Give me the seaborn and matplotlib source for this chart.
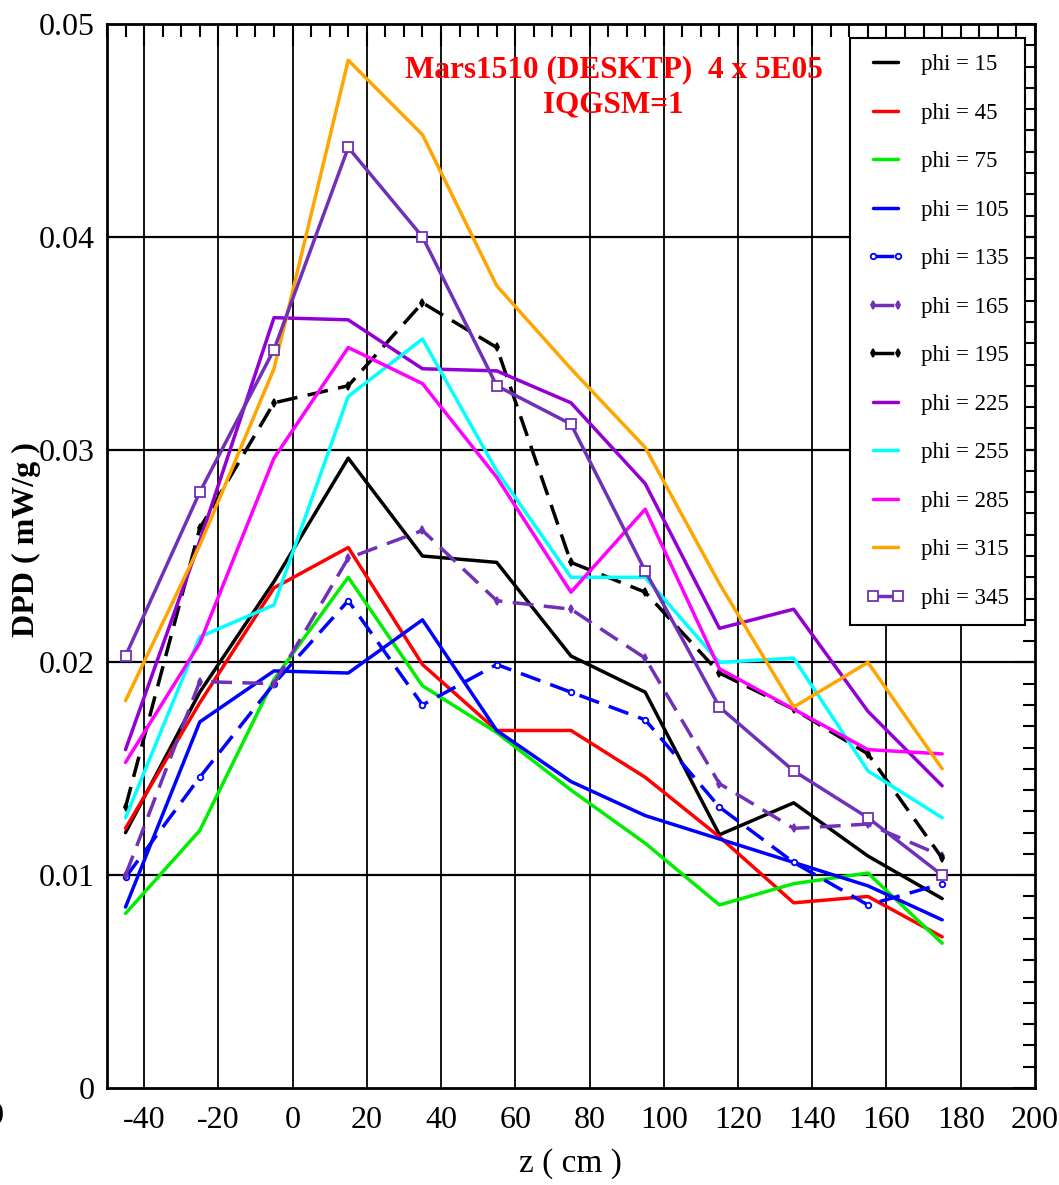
import matplotlib

matplotlib.use("Agg")
import matplotlib.pyplot as plt
import pandas as pd
import seaborn as sns
from matplotlib.ticker import FixedLocator, MultipleLocator

# z positions (cm) shared by all series
z_cm = [-45, -25, -5, 15, 35, 55, 75, 95, 115, 135, 155, 175]

phi_15 = [0.0120, 0.0186, 0.0238, 0.0296, 0.0250, 0.0247, 0.0203, 0.0186, 0.0119, 0.0134, 0.0109, 0.0089]
phi_45 = [0.0122, 0.0181, 0.0235, 0.0254, 0.0199, 0.0168, 0.0168, 0.0146, 0.0118, 0.0087, 0.0090, 0.0071]
phi_75 = [0.0082, 0.0121, 0.0192, 0.0240, 0.0189, 0.0167, 0.0140, 0.0115, 0.0086, 0.0096, 0.0101, 0.0068]
phi_105 = [0.0085, 0.0172, 0.0196, 0.0195, 0.0220, 0.0168, 0.0144, 0.0128, 0.0117, 0.0106, 0.0095, 0.0079]
phi_135 = [0.0099, 0.0146, 0.0190, 0.0229, 0.0180, 0.0199, 0.0186, 0.0173, 0.0132, 0.0106, 0.0086, 0.0096]
phi_165 = [0.0100, 0.0191, 0.0190, 0.0249, 0.0262, 0.0229, 0.0225, 0.0202, 0.0143, 0.0122, 0.0124, 0.0109]
phi_195 = [0.0132, 0.0263, 0.0322, 0.0330, 0.0369, 0.0348, 0.0247, 0.0233, 0.0195, 0.0178, 0.0157, 0.0108]
phi_225 = [0.0159, 0.0257, 0.0362, 0.0361, 0.0338, 0.0337, 0.0322, 0.0284, 0.0216, 0.0225, 0.0177, 0.0142]
phi_255 = [0.0127, 0.0212, 0.0227, 0.0325, 0.0352, 0.0290, 0.0240, 0.0240, 0.0200, 0.0202, 0.0149, 0.0127]
phi_285 = [0.0153, 0.0209, 0.0296, 0.0348, 0.0331, 0.0287, 0.0233, 0.0272, 0.0197, 0.0178, 0.0159, 0.0157]
phi_315 = [0.0182, 0.0255, 0.0338, 0.0483, 0.0448, 0.0377, 0.0338, 0.0301, 0.0237, 0.0179, 0.0200, 0.0150]
phi_345 = [0.0203, 0.0280, 0.0347, 0.0442, 0.0400, 0.0330, 0.0312, 0.0243, 0.0179, 0.0149, 0.0127, 0.0100]

series_labels = ["phi = 15", "phi = 45", "phi = 75", "phi = 105", "phi = 135", "phi = 165",
                 "phi = 195", "phi = 225", "phi = 255", "phi = 285", "phi = 315", "phi = 345"]
series_values = [phi_15, phi_45, phi_75, phi_105, phi_135, phi_165,
                 phi_195, phi_225, phi_255, phi_285, phi_315, phi_345]

x_ticks = [-40, -20, 0, 20, 40, 60, 80, 100, 120, 140, 160, 180, 200]
y_ticks = [0, 0.01, 0.02, 0.03, 0.04, 0.05]
y_tick_labels = ["0", "0.01", "0.02", "0.03", "0.04", "0.05"]

title_lines = ["Mars1510 (DESKTP)  4 x 5E05", "IQGSM=1"]

# (color, linestyle, marker, marker facecolor, marker size)
styles = [
    ("#000000", "-", None, None, 0),
    ("#ff0000", "-", None, None, 0),
    ("#00ee00", "-", None, None, 0),
    ("#0000ff", "-", None, None, 0),
    ("#0000ff", "--", "o", "white", 4),
    ("#7030b8", "--", "d", "#7030b8", 4),
    ("#000000", "--", "d", "#000000", 4),
    ("#9400d3", "-", None, None, 0),
    ("#00ffff", "-", None, None, 0),
    ("#ff00ff", "-", None, None, 0),
    ("#ffa500", "-", None, None, 0),
    ("#7030b8", "-", "s", "white", 7),
]

sns.set_theme(style="white")
plt.rcParams["font.family"] = ["Liberation Serif", "DejaVu Serif"]
plt.rcParams["axes.linewidth"] = 2.0
plt.rcParams["axes.edgecolor"] = "black"
plt.rcParams["axes.labelcolor"] = "black"
plt.rcParams["text.color"] = "black"

fig = plt.figure(figsize=(10.59, 11.85), dpi=100)
ax = fig.add_axes([0.101, 0.0819, 0.8763, 0.8978])

for label, vals, (color, ls, marker, mfc, ms) in zip(series_labels, series_values, styles):
    df = pd.DataFrame({"z": z_cm, "dpd": vals})
    sns.lineplot(
        data=df, x="z", y="dpd", ax=ax, color=color, linewidth=2.5,
        linestyle=ls, marker=marker, markerfacecolor=mfc, markeredgecolor=color,
        markeredgewidth=1.3, markersize=ms, label=label, zorder=3,
    )
    if ls == "--":
        ax.lines[-1].set_dashes((6, 3))

ax.set_xlim(-50, 200)
ax.set_ylim(0, 0.05)

ax.xaxis.set_major_locator(FixedLocator(x_ticks))
ax.xaxis.set_minor_locator(MultipleLocator(5))
ax.yaxis.set_major_locator(FixedLocator(y_ticks))
ax.yaxis.set_minor_locator(MultipleLocator(0.001))
ax.set_xticklabels([str(t) for t in x_ticks])
ax.set_yticklabels(y_tick_labels)

ax.tick_params(which="both", direction="in", top=True, right=True, colors="black",
               labelsize=23, width=1.5)
ax.tick_params(which="major", length=16)
ax.tick_params(axis="x", which="major", pad=13)
ax.tick_params(axis="y", which="major", pad=9)
ax.tick_params(which="minor", length=9)

# grid only at interior major ticks
for xv in x_ticks[:-1]:
    ax.axvline(xv, color="black", linewidth=1.3, zorder=1)
for yv in y_ticks[1:-1]:
    ax.axhline(yv, color="black", linewidth=1.6, zorder=1)

ax.set_xlabel("z ( cm )", fontsize=24, color="black")
ax.xaxis.set_label_coords((570 - 107) / 928, -(1148 - 1088) / 1064)
ax.set_ylabel("DPD ( mW/g )", fontsize=23, fontweight="bold", color="black")
ax.yaxis.set_label_coords(-(107 - 41) / 928, (1088 - 540) / 1064)

ax.text(0.546, 0.957, title_lines[0], transform=ax.transAxes, ha="center", va="center",
        color="red", fontsize=22.5, fontweight="bold")
ax.text(0.546, 0.924, title_lines[1], transform=ax.transAxes, ha="center", va="center",
        color="red", fontsize=22.5, fontweight="bold")

leg = ax.legend(
    loc="upper left", bbox_to_anchor=(850 / 1059, 1 - 38 / 1185), bbox_transform=fig.transFigure,
    fontsize=16.5, frameon=True, fancybox=False, edgecolor="black", framealpha=1,
    numpoints=2, handlelength=1.7, handletextpad=0.7, labelspacing=1.2,
    borderpad=0.7, borderaxespad=0,
)
leg.get_frame().set_linewidth(1.5)
leg.set_zorder(5)
for txt in leg.get_texts():
    txt.set_color("black")

# stray clipped tick label at the left edge, as in the source image
fig.text(-0.004, 1 - 1117 / 1185, "0", ha="center", va="center", fontsize=23)

fig.savefig("out.png", dpi=100)
plt.close(fig)
